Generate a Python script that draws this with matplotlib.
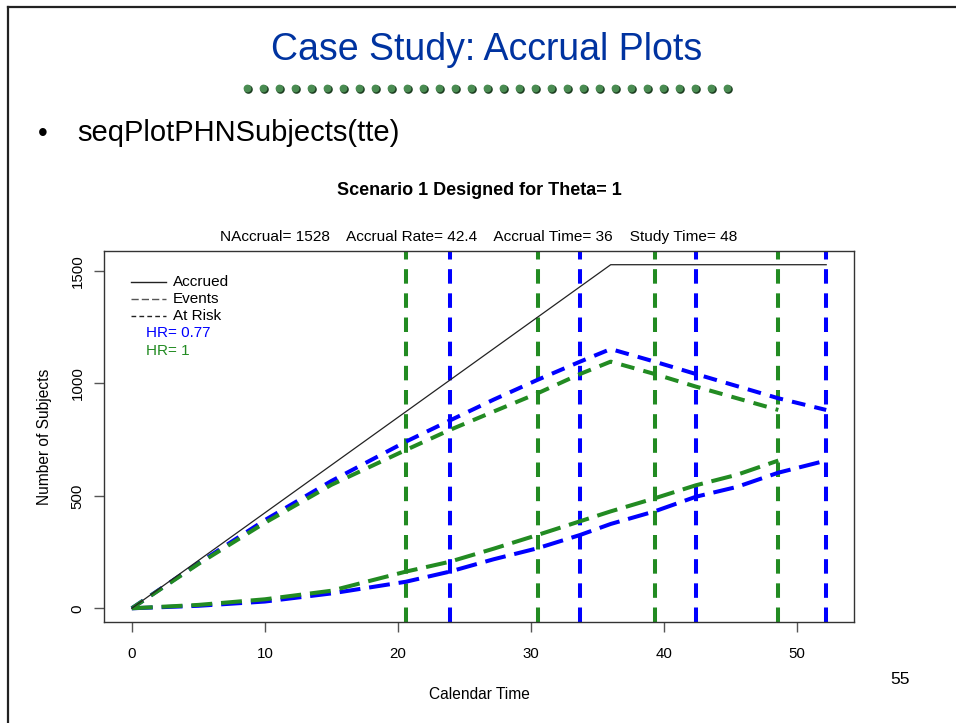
import matplotlib.pyplot as plt
import numpy as np
from matplotlib.lines import Line2D

plt.rcParams['font.family'] = ['Liberation Sans', 'DejaVu Sans']

# accrual (same for both hazard ratios)
accr_t = [0, 36, 52.2]
accr_n = [0, 1528, 1528]

# HR = 0.77 (blue)
blue_t = [0, 5, 10, 15, 20.6, 23.9, 27.2, 30.5, 33.7, 36, 39.3, 42.4, 45.5, 48.6, 52.2]
blue_risk = [0, 200, 392, 566, 741, 835, 928, 1016, 1097, 1153, 1097, 1042, 988, 934, 882]
blue_events = [0, 11, 30, 66, 118, 163, 218, 267, 326, 375, 431, 496, 540, 603, 657]
blue_looks = [23.9, 33.7, 42.4, 52.2]

# HR = 1 (green)
green_t = [0, 5, 10, 15, 20.6, 23.9, 27.2, 30.5, 33.7, 36, 39.3, 42.4, 45.5, 48.6]
green_risk = [0, 197, 380, 549, 704, 793, 875, 956, 1042, 1097, 1042, 986, 934, 882]
green_events = [0, 15, 40, 78, 163, 207, 265, 326, 387, 431, 489, 547, 594, 657]
green_looks = [20.6, 30.5, 39.3, 48.6]

legend_lines = ['Accrued', 'Events', 'At Risk']
hr_labels = ['HR= 0.77', 'HR= 1']

BLUE = '#0000ff'
GREEN = '#228b22'
W, H = 956, 723

fig = plt.figure(figsize=(W / 100, H / 100), dpi=100)

# slide frame
fig.add_artist(Line2D([8 / W, 1], [1 - 7 / H, 1 - 7 / H], color='#222222', lw=1.6))
fig.add_artist(Line2D([8 / W, 8 / W], [0, 1 - 7 / H], color='#222222', lw=1.6))

fig.text(487 / W, 1 - 50 / H, 'Case Study: Accrual Plots', color='#0033a0',
         fontsize=27, ha='center', va='center')
dx = np.linspace(247, 727, 31) / W
fig.add_artist(Line2D(dx + 0.8 / W, np.full(31, 1 - 88.6 / H), ls='none', marker='o',
                      ms=6.2, mfc='#1e3f22', mec='none'))
fig.add_artist(Line2D(dx, np.full(31, 1 - 87.5 / H), ls='none', marker='o',
                      ms=5.6, mfc='#4a8c52', mec='none'))
fig.text(43 / W, 1 - 134 / H, '•', fontsize=20, ha='center', va='center')
fig.text(77 / W, 1 - 133 / H, 'seqPlotPHNSubjects(tte)', fontsize=21,
         ha='left', va='center')
fig.text(900 / W, 1 - 680 / H, '55', fontsize=12.5, ha='center', va='center')

ax = fig.add_axes([104 / W, 1 - 622 / H, 750 / W, 371 / H])

for x in green_looks:
    ax.axvline(x, color=GREEN, lw=2.9, dashes=(3.6, 2.4))
for x in blue_looks:
    ax.axvline(x, color=BLUE, lw=2.9, dashes=(3.6, 2.4))

ax.plot(blue_t, blue_risk, color=BLUE, lw=2.9, dashes=(3.4, 2.3))
ax.plot(green_t, green_risk, color=GREEN, lw=2.9, dashes=(3.4, 2.3))
ax.plot(blue_t, blue_events, color=BLUE, lw=2.9, dashes=(5.2, 2.2))
ax.plot(green_t, green_events, color=GREEN, lw=2.9, dashes=(5.2, 2.2))
ax.plot(accr_t, accr_n, color='#222222', lw=0.9)

ax.set_xlim(-2.09, 54.29)
ax.set_ylim(-61, 1589)
ax.set_xticks([0, 10, 20, 30, 40, 50])
ax.set_yticks([0, 500, 1000, 1500])
ax.tick_params(length=7, width=1, color='#555555', labelsize=10.8)
ax.tick_params(axis='x', pad=11)
ax.tick_params(axis='y', pad=7)
for lab in ax.get_yticklabels():
    lab.set_rotation(90)
    lab.set_va('center')
for s in ax.spines.values():
    s.set_color('#333333')
    s.set_linewidth(1)

ax.set_xlabel('Calendar Time', fontsize=11.2, labelpad=19)
ax.set_ylabel('Number of Subjects', fontsize=11.2, labelpad=13)
ax.set_title('Scenario 1 Designed for Theta= 1', fontsize=13, fontweight='bold', pad=40)
ax.text(0.5, 1.038, 'NAccrual= 1528    Accrual Rate= 42.4    Accrual Time= 36    Study Time= 48',
        transform=ax.transAxes, ha='center', va='center', fontsize=11.1)

# legend drawn by hand, as in the R plot
ly = [0.917, 0.871, 0.825]
styles = [dict(ls='-'), dict(dashes=(5.2, 2.2)), dict(dashes=(3.4, 2.3))]
for y, lab, st, c in zip(ly, legend_lines, styles, ['#222222', '#555555', '#222222']):
    ax.plot([0.036, 0.083], [y, y], transform=ax.transAxes, color=c, lw=1, **st)
    ax.text(0.092, y, lab, transform=ax.transAxes, va='center', fontsize=11)
for y, lab, c in zip([0.779, 0.731], hr_labels, [BLUE, GREEN]):
    ax.text(0.056, y, lab, transform=ax.transAxes, va='center', fontsize=11, color=c)

fig.savefig('out.png', dpi=100)
